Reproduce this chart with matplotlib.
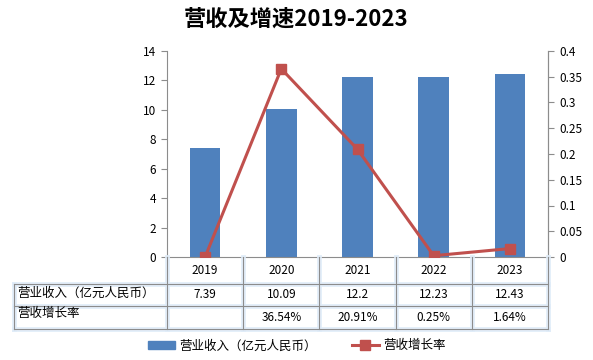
import matplotlib.pyplot as plt
from matplotlib.lines import Line2D
import numpy as np

plt.rcParams['font.family'] = ['Noto Sans CJK SC', 'DejaVu Sans']

years = ['2019', '2020', '2021', '2022', '2023']
revenue = [7.39, 10.09, 12.2, 12.23, 12.43]
growth = [0.0, 0.3654, 0.2091, 0.0025, 0.0164]
revenue_labels = ['7.39', '10.09', '12.2', '12.23', '12.43']
growth_labels = ['', '36.54%', '20.91%', '0.25%', '1.64%']
row_names = ['营业收入（亿元人民币）', '营收增长率']

blue = '#4F81BD'
red = '#C0504D'
grid_c = '#8c8c8c'

fig = plt.figure(figsize=(5.93, 3.6), dpi=100)
W, H = 593, 360
ax = fig.add_axes([167 / W, 1 - 257 / H, (548 - 167) / W, (257 - 51) / H])
x = np.arange(len(years))
ax.bar(x, revenue, width=0.4, color=blue, zorder=2)
ax.set_xlim(-0.5, len(years) - 0.5)
ax.set_ylim(0, 14)
ax.set_yticks(range(0, 15, 2))
ax.set_xticks([])
ax.spines['top'].set_visible(False)
for s in ['left', 'right', 'bottom']:
    ax.spines[s].set_color(grid_c)
ax.tick_params(axis='y', labelsize=8.5, color=grid_c, length=4, pad=4)

ax2 = ax.twinx()
ax2.plot(x, growth, color=red, lw=2.2, marker='s', markersize=6.5, zorder=3)
ax2.set_ylim(0, 0.4)
ax2.set_yticks(np.arange(0, 0.41, 0.05))
ax2.set_yticklabels(['0', '0.05', '0.1', '0.15', '0.2', '0.25', '0.3', '0.35', '0.4'])
ax2.tick_params(axis='y', labelsize=8.5, color=grid_c, length=4, pad=4)
for s in ['top', 'left', 'bottom']:
    ax2.spines[s].set_visible(False)
ax2.spines['right'].set_color(grid_c)

fig.suptitle('营收及增速2019-2023', y=1 - 19 / H, va='center', fontsize=16, fontweight='bold')

# data table below the axis
cols = [167 + i * (548 - 167) / 5 for i in range(6)]
rows = [257, 284, 306, 329]
left = 14


def fline(xs, ys):
    fx = [v / W for v in xs]
    fy = [1 - v / H for v in ys]
    fig.add_artist(Line2D(fx, fy, color='#e0ecf8', lw=3.5, alpha=0.9, zorder=1))
    fig.add_artist(Line2D(fx, fy, color=grid_c, lw=0.8, zorder=2))


for r in rows[1:]:
    fline([left, cols[-1]], [r, r])
for c in cols:
    fline([c, c], [rows[0], rows[-1]])
fline([left, left], [rows[1], rows[-1]])

for i in range(5):
    cx = (cols[i] + cols[i + 1]) / 2 / W
    fig.text(cx, 1 - (rows[0] + rows[1]) / 2 / H, years[i], ha='center', va='center', fontsize=8.5)
    fig.text(cx, 1 - (rows[1] + rows[2]) / 2 / H, revenue_labels[i], ha='center', va='center', fontsize=8.5)
    fig.text(cx, 1 - (rows[2] + rows[3]) / 2 / H, growth_labels[i], ha='center', va='center', fontsize=8.5)
fig.text((left + 3) / W, 1 - (rows[1] + 9) / H, row_names[0], ha='left', va='center', fontsize=9)
fig.text((left + 3) / W, 1 - (rows[2] + 8) / H, row_names[1], ha='left', va='center', fontsize=9)

handles = [plt.Rectangle((0, 0), 1, 1, color=blue),
           Line2D([], [], color=red, lw=2.2, marker='s', markersize=6.5)]
fig.legend(handles, row_names, loc='center', bbox_to_anchor=(0.5, 1 - 346 / H), ncol=2,
           frameon=False, fontsize=9, handlelength=2.2, handleheight=0.6, columnspacing=2.8, handletextpad=0.3)

fig.savefig('out.png', dpi=100)
